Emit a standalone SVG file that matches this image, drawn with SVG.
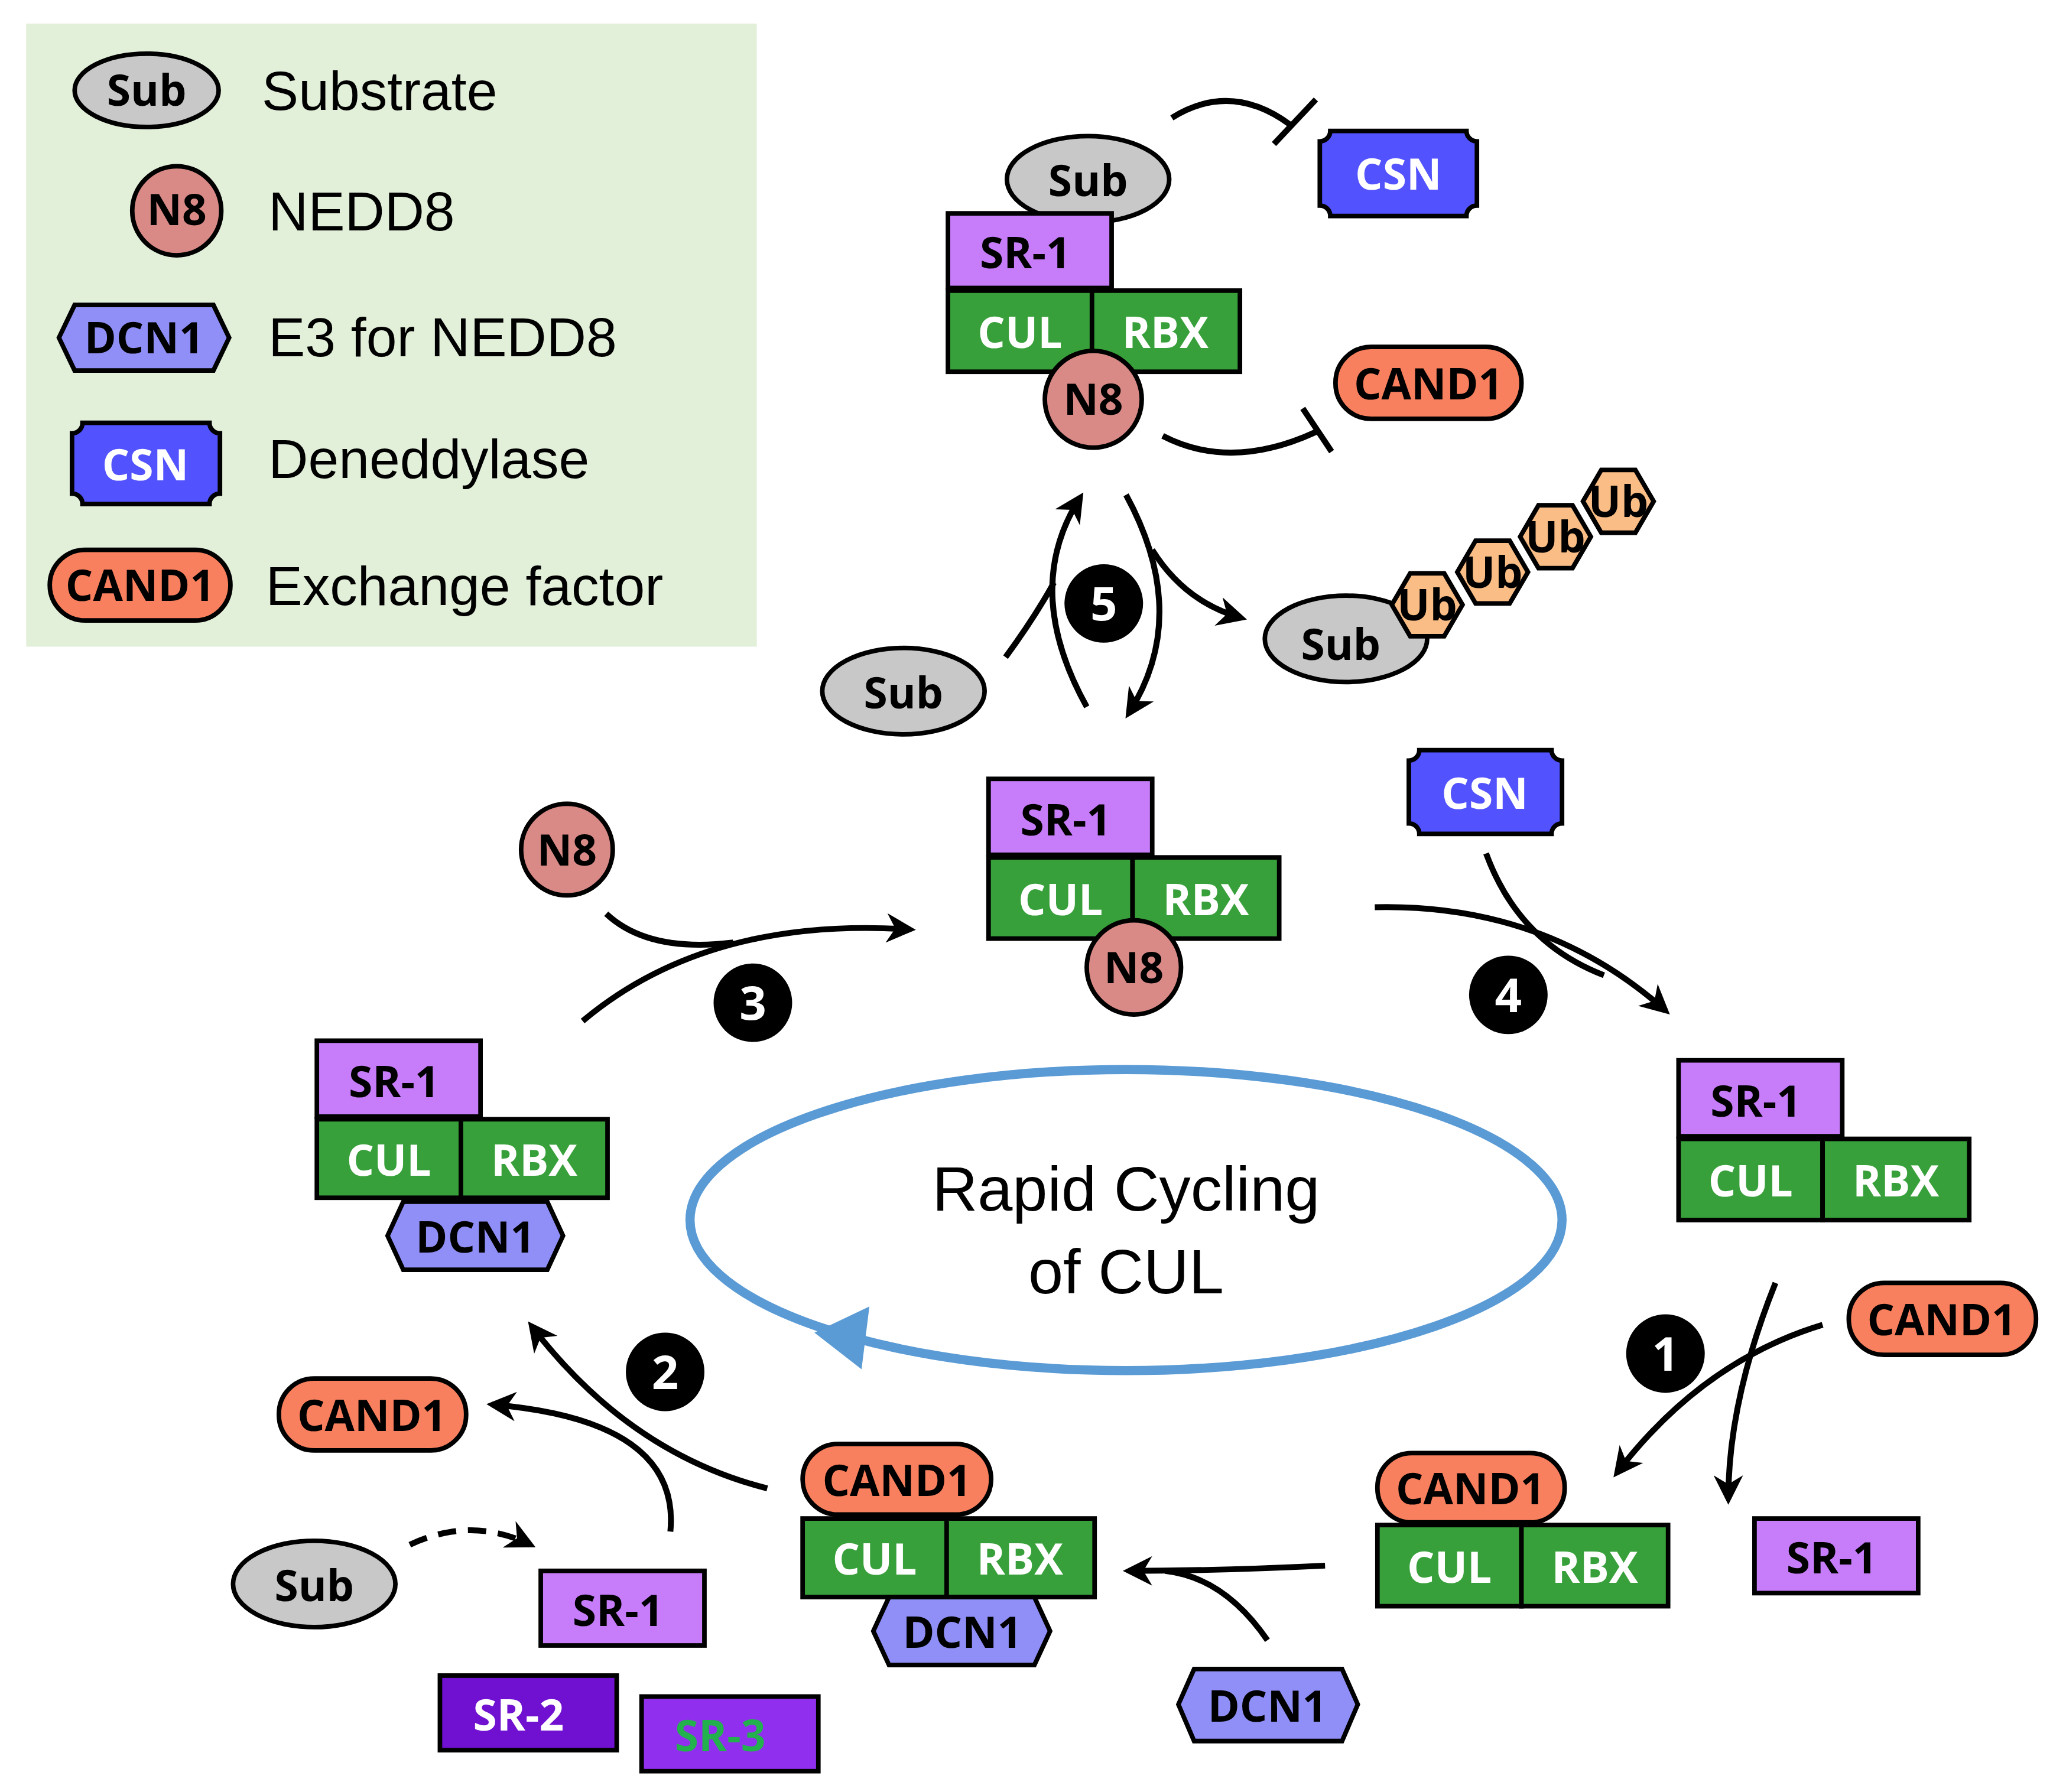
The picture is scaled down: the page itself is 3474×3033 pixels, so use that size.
<svg xmlns="http://www.w3.org/2000/svg" width="3474" height="3033" viewBox="0 0 3474 3033">
<style>
.b{stroke:#000;stroke-width:3.5}
.sr{fill:#c77dfa}.g{fill:#38a03a}.csn{fill:#5252ff}.cand{fill:#f9805e}.n8{fill:#d98a86}.sub{fill:#c8c8c8}.dcn{fill:#8f8ff7}.ub{fill:#f9bd85}
text{font-family:"Open Sans","Liberation Sans",sans-serif;font-weight:700;font-size:33px;text-anchor:middle}
.w{fill:#fff}.k{fill:#000}
.lg{font-family:"Liberation Sans",Arial,sans-serif;font-weight:400;font-size:42px;text-anchor:start}
.c{fill:none;stroke:#000;stroke-width:4.5}
.num{font-size:36px;fill:#fff}
</style>
<defs>
<marker id="a" viewBox="0 0 10 10" refX="8" refY="5" markerWidth="5" markerHeight="5" orient="auto">
<path d="M0,0 L10,5 L0,10 L3,5 Z" fill="#000" stroke="none"/>
</marker>
</defs>
<rect width="3474" height="3033" fill="#fff"/>
<g transform="scale(2.2156)">
<g id="legend">
<rect x="20" y="18" width="558" height="476" fill="#e2efd9"/>
<ellipse class="b sub" cx="112" cy="69" rx="55" ry="28"/><text x="112" y="81" font-size="30">Sub</text>
<text class="lg" x="200" y="84">Substrate</text>
<circle class="b n8" cx="135" cy="161" r="34"/><text x="135" y="172" font-size="28">N8</text>
<text class="lg" x="205" y="176">NEDD8</text>
<polygon class="b dcn" points="45,258 57,233 163,233 175,258 163,283 57,283"/><text x="110" y="270" font-size="30">DCN1</text>
<text class="lg" x="205" y="272">E3 for NEDD8</text>
<path class="b csn" d="M63,323 H160 A8 8 0 0 0 168,331 V377 A8 8 0 0 0 160,385 H63 A8 8 0 0 0 55,377 V331 A8 8 0 0 0 63,323Z"/><text class="w" x="111" y="367">CSN</text>
<text class="lg" x="205" y="365">Deneddylase</text>
<rect class="b cand" x="38" y="420" width="138" height="54" rx="27"/><text x="107" y="459">CAND1</text>
<text class="lg" x="203" y="462">Exchange factor</text>
</g>
<g id="connectors">
<path class="c" d="M895,90 Q940,62 985,95"/><path class="c" d="M973,110 L1005,76"/>
<path class="c" d="M888,333 Q940,360 1005,330"/><path class="c" d="M995,312 L1017,345"/>
<path class="c" d="M830,540 Q780,450 825,380" marker-end="url(#a)"/>
<path class="c" d="M768,502 Q790,472 805,445"/>
<path class="c" d="M860,378 Q910,470 862,545" marker-end="url(#a)"/>
<path class="c" d="M880,420 Q905,460 948,472" marker-end="url(#a)"/>
<path class="c" d="M445,780 Q540,700 695,710" marker-end="url(#a)"/>
<path class="c" d="M463,698 Q495,728 560,720"/>
<path class="c" d="M1050,693 Q1180,690 1272,772" marker-end="url(#a)"/>
<path class="c" d="M1135,652 Q1160,720 1225,745"/>
<path class="c" d="M1356,980 Q1320,1070 1320,1145" marker-end="url(#a)"/>
<path class="c" d="M1392,1012 Q1300,1040 1235,1125" marker-end="url(#a)"/>
<path class="c" d="M1012,1196 Q930,1200 862,1200" marker-end="url(#a)"/>
<path class="c" d="M968,1253 Q935,1205 890,1200"/>
<path class="c" d="M586,1137 Q480,1110 406,1013" marker-end="url(#a)"/>
<path class="c" d="M512,1170 Q520,1085 376,1073" marker-end="url(#a)"/>
<path class="c" d="M313,1180 Q360,1158 405,1180" stroke-dasharray="14,9" marker-end="url(#a)"/>
</g>
<g id="cycle">
<ellipse cx="860" cy="932" rx="333" ry="115" fill="none" stroke="#5b9bd5" stroke-width="7"/>
<polygon points="622,1018 664,998 658,1046" fill="#5b9bd5"/>
<text class="lg" x="860" y="925" style="text-anchor:middle;font-size:48px">Rapid Cycling</text>
<text class="lg" x="860" y="988" style="text-anchor:middle;font-size:48px">of CUL</text>
</g>
<g id="nums">
<circle cx="843" cy="461" r="30"/><text class="num" x="843" y="474">5</text>
<circle cx="575" cy="766" r="30"/><text class="num" x="575" y="779">3</text>
<circle cx="1152" cy="760" r="30"/><text class="num" x="1152" y="773">4</text>
<circle cx="1272" cy="1034" r="30"/><text class="num" x="1272" y="1047">1</text>
<circle cx="508" cy="1048" r="30"/><text class="num" x="508" y="1061">2</text>
</g>
<g id="top-complex">
<ellipse class="b sub" cx="831" cy="137" rx="62" ry="33"/><text x="831" y="150">Sub</text>
<rect class="b sr" x="724" y="163" width="125" height="57"/><text x="783" y="205">SR-1</text>
<rect class="b g" x="724" y="222" width="110" height="62"/><text class="w" x="779" y="266">CUL</text>
<rect class="b g" x="834" y="222" width="113" height="62"/><text class="w" x="890" y="266">RBX</text>
<circle class="b n8" cx="835" cy="305" r="37"/><text x="835" y="317" font-size="30">N8</text>
</g>
<g id="csn-top"><path class="b csn" d="M1016,100 H1120 A8 8 0 0 0 1128,108 V157 A8 8 0 0 0 1120,165 H1016 A8 8 0 0 0 1008,157 V108 A8 8 0 0 0 1016,100Z"/><text class="w" x="1068" y="145">CSN</text></g>
<g id="cand-top"><rect class="b cand" x="1020" y="265" width="142" height="55" rx="27"/><text x="1091" y="305">CAND1</text></g>
<g id="sub-left"><ellipse class="b sub" cx="690" cy="528" rx="62" ry="33"/><text x="690" y="541">Sub</text></g>
<g id="sub-ub">
<ellipse class="b sub" cx="1028" cy="488" rx="62" ry="33"/><text x="1024" y="504">Sub</text>
<polygon class="b ub" points="1063,462 1077,438 1103,438 1117,462 1103,486 1077,486"/><text x="1090" y="474" font-size="30">Ub</text>
<polygon class="b ub" points="1113,437 1127,413 1153,413 1167,437 1153,461 1127,461"/><text x="1140" y="449" font-size="30">Ub</text>
<polygon class="b ub" points="1161,410 1175,386 1201,386 1215,410 1201,434 1175,434"/><text x="1188" y="422" font-size="30">Ub</text>
<polygon class="b ub" points="1209,383 1223,359 1249,359 1263,383 1249,407 1223,407"/><text x="1236" y="395" font-size="30">Ub</text>
</g>
<g id="mid-complex">
<rect class="b sr" x="755" y="595" width="125" height="58"/><text x="814" y="638">SR-1</text>
<rect class="b g" x="755" y="655" width="110" height="62"/><text class="w" x="810" y="699">CUL</text>
<rect class="b g" x="865" y="655" width="112" height="62"/><text class="w" x="921" y="699">RBX</text>
<circle class="b n8" cx="866" cy="739" r="36"/><text x="866" y="751" font-size="30">N8</text>
</g>
<g id="n8-free"><circle class="b n8" cx="433" cy="649" r="35"/><text x="433" y="661" font-size="30">N8</text></g>
<g id="csn-mid"><path class="b csn" d="M1084,573 H1185 A8 8 0 0 0 1193,581 V629 A8 8 0 0 0 1185,637 H1084 A8 8 0 0 0 1076,629 V581 A8 8 0 0 0 1084,573Z"/><text class="w" x="1134" y="618">CSN</text></g>
<g id="right-complex">
<rect class="b sr" x="1282" y="810" width="125" height="58"/><text x="1341" y="853">SR-1</text>
<rect class="b g" x="1282" y="870" width="110" height="62"/><text class="w" x="1337" y="914">CUL</text>
<rect class="b g" x="1392" y="870" width="112" height="62"/><text class="w" x="1448" y="914">RBX</text>
</g>
<g id="cand-right"><rect class="b cand" x="1412" y="980" width="143" height="55" rx="27"/><text x="1483" y="1020">CAND1</text></g>
<g id="sr1-right"><rect class="b sr" x="1340" y="1160" width="125" height="57"/><text x="1399" y="1202">SR-1</text></g>
<g id="lr-complex">
<rect class="b g" x="1052" y="1165" width="110" height="62"/><text class="w" x="1107" y="1209">CUL</text>
<rect class="b g" x="1162" y="1165" width="112" height="62"/><text class="w" x="1218" y="1209">RBX</text>
<rect class="b cand" x="1052" y="1110" width="143" height="53" rx="26"/><text x="1123" y="1149">CAND1</text>
</g>
<g id="dcn-free"><polygon class="b dcn" points="900,1302 912,1275 1025,1275 1037,1302 1025,1330 912,1330"/><text x="968" y="1315">DCN1</text></g>
<g id="lm-complex">
<rect class="b g" x="613" y="1160" width="110" height="60"/><text class="w" x="668" y="1203">CUL</text>
<rect class="b g" x="723" y="1160" width="113" height="60"/><text class="w" x="779" y="1203">RBX</text>
<rect class="b cand" x="613" y="1103" width="144" height="54" rx="27"/><text x="685" y="1143">CAND1</text>
<polygon class="b dcn" points="667,1246 679,1220 790,1220 802,1246 790,1272 679,1272"/><text x="735" y="1259">DCN1</text>
</g>
<g id="cand-left"><rect class="b cand" x="213" y="1053" width="143" height="55" rx="27"/><text x="284" y="1093">CAND1</text></g>
<g id="sub-bottom"><ellipse class="b sub" cx="240" cy="1210" rx="62" ry="33"/><text x="240" y="1223">Sub</text></g>
<g id="sr-pool">
<rect class="b sr" x="413" y="1200" width="125" height="57"/><text x="472" y="1242">SR-1</text>
<rect class="b" fill="#7010d0" x="336" y="1280" width="135" height="57"/><text class="w" x="396" y="1322">SR-2</text>
<rect class="b" fill="#9030ee" x="490" y="1296" width="135" height="57"/><text fill="#22b14c" x="550" y="1338">SR-3</text>
</g>
<g id="left-complex">
<rect class="b sr" x="242" y="795" width="125" height="58"/><text x="301" y="838">SR-1</text>
<rect class="b g" x="242" y="855" width="110" height="60"/><text class="w" x="297" y="898">CUL</text>
<rect class="b g" x="352" y="855" width="112" height="60"/><text class="w" x="408" y="898">RBX</text>
<polygon class="b dcn" points="296,944 308,918 418,918 430,944 418,970 308,970"/><text x="363" y="957">DCN1</text>
</g>
</g>
</svg>
